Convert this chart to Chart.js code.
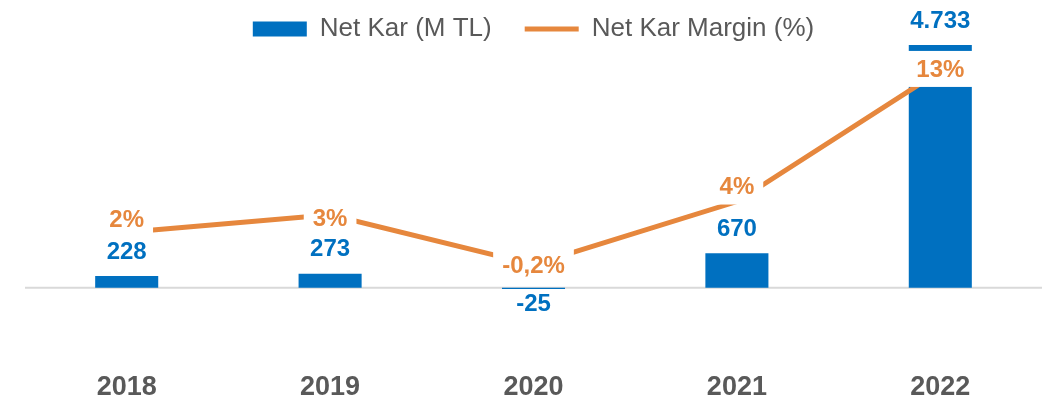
<!DOCTYPE html>
<html>
<head>
<meta charset="utf-8">
<script src="https://cdn.jsdelivr.net/npm/chart.js@4"></script>
<style>
  html, body { margin: 0; padding: 0; background: #fff; }
  #wrap { width: 1056px; height: 400px; }
</style>
</head>
<body>
<div id="wrap"><canvas id="karChart"></canvas></div>
<script>
const years = ['2018', '2019', '2020', '2021', '2022'];
const netKar = [228, 273, -25, 670, 4733];
const netKarMargin = [2.0, 3.2, -0.2, 4.1, 13.0];

const blue = '#0070C0';
const orange = '#E6873D';
const gray = '#595959';
const fontName = '"Liberation Sans", Arial, sans-serif';

function fmtNum(v) {
  const s = String(Math.abs(v)).replace(/\B(?=(\d{3})+(?!\d))/g, '.');
  return (v < 0 ? '-' : '') + s;
}

function fmtPct(v) {
  if (Math.abs(v) < 1) return v.toFixed(1).replace('.', ',') + '%';
  return Math.round(v) + '%';
}

// little nudges so the % labels sit like the original
const pctOffsets = [-13, 4, 1, -15, -2];

const valueLabels = {
  id: 'valueLabels',
  beforeDatasetsDraw(chart) {
    const {ctx, chartArea, scales} = chart;
    const y0 = scales.yBar.getPixelForValue(0);
    ctx.save();
    ctx.strokeStyle = '#D9D9D9';
    ctx.lineWidth = 2;
    ctx.beginPath();
    ctx.moveTo(chartArea.left, y0);
    ctx.lineTo(chartArea.right, y0);
    ctx.stroke();
    ctx.restore();
  },
  afterDatasetsDraw(chart) {
    const ctx = chart.ctx;
    ctx.save();
    ctx.font = 'bold 24px ' + fontName;
    ctx.textAlign = 'center';
    ctx.textBaseline = 'middle';

    // margin labels with white box over the line
    const lineMeta = chart.getDatasetMeta(1);
    lineMeta.data.forEach((pt, i) => {
      const txt = fmtPct(netKarMargin[i]);
      const y = pt.y + pctOffsets[i];
      const w = ctx.measureText(txt).width;
      ctx.fillStyle = '#fff';
      ctx.fillRect(pt.x - w / 2 - 9, y - 18, w + 18, 36);
      ctx.fillStyle = orange;
      ctx.fillText(txt, pt.x, y + 1);
    });

    // bar labels
    const barMeta = chart.getDatasetMeta(0);
    barMeta.data.forEach((bar, i) => {
      const v = netKar[i];
      const y = v >= 0 ? bar.y - 25 : bar.y + 14;
      ctx.fillStyle = blue;
      ctx.fillText(fmtNum(v), bar.x, y + 1);
    });
    ctx.restore();
  }
};

let k_chart = new Chart('karChart', {
  type: 'bar',
  data: {
    labels: years,
    datasets: [{
      type: 'bar',
      label: 'Net Kar (M TL)',
      data: netKar,
      backgroundColor: blue,
      borderWidth: 0,
      barPercentage: 0.31,
      categoryPercentage: 1,
      yAxisID: 'yBar',
      pointStyle: 'rect',
      clip: false,
      order: 1
    }, {
      type: 'line',
      label: 'Net Kar Margin (%)',
      data: netKarMargin,
      borderColor: orange,
      backgroundColor: orange,
      borderWidth: 5,
      borderCapStyle: 'round',
      pointRadius: 0,
      pointStyle: 'line',
      tension: 0,
      yAxisID: 'yPct',
      clip: false,
      order: 0
    }]
  },
  options: {
    responsive: true,
    maintainAspectRatio: false,
    animation: false,
    layout: { padding: { top: -17, left: 25, right: 14, bottom: -18 } },
    plugins: {
      tooltip: { enabled: false },
      legend: {
        display: true,
        position: 'top',
        labels: {
          usePointStyle: true,
          pointStyleWidth: 54,
          boxHeight: 15,
          padding: 33,
          color: gray,
          font: { family: fontName, size: 26 },
          sort: (a, b) => a.datasetIndex - b.datasetIndex
        }
      }
    },
    scales: {
      x: {
        grid: { display: false },
        border: { display: false },
        ticks: {
          color: gray,
          padding: 14,
          font: { family: fontName, size: 27, weight: 'bold' }
        }
      },
      yBar: {
        display: false,
        min: -1208,
        max: 4597
      },
      yPct: {
        display: false,
        min: -5.99,
        max: 14.29
      }
    }
  },
  plugins: [valueLabels]
});
</script>
</body>
</html>
